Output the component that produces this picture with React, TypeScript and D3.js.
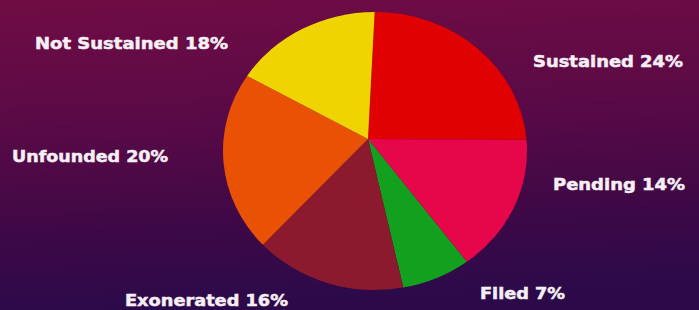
import React, { useRef, useEffect } from "react";
import * as d3 from "d3";

const W = 699;
const H = 310;

// slice data, clockwise from the top
const categories = ["Sustained", "Pending", "Filed", "Exonerated", "Unfounded", "Not Sustained"];
const percents = [24, 14, 7, 16, 20, 18];
const colors = ["#e00202", "#e6064a", "#12a01e", "#8c1a2e", "#e95204", "#efd402"];

// where each label sits: left x, baseline y, width of the text
const labelX = [533, 553, 480, 125, 12, 35];
const labelY = [67, 190, 299, 306, 162, 49];
const labelW = [150, 132, 85, 163, 156, 193];

// the pie is a bit of an ellipse in the picture, with the tip off centre
const APEX = { x: 368, y: 139 };
const ELL = { cx: 375, cy: 151, rx: 152, ry: 139 };

const rim = (a: number) => {
  const dx = Math.sin(a), dy = -Math.cos(a);
  const ox = APEX.x - ELL.cx, oy = APEX.y - ELL.cy;
  const A = (dx * dx) / (ELL.rx * ELL.rx) + (dy * dy) / (ELL.ry * ELL.ry);
  const B = 2 * ((ox * dx) / (ELL.rx * ELL.rx) + (oy * dy) / (ELL.ry * ELL.ry));
  const C = (ox * ox) / (ELL.rx * ELL.rx) + (oy * oy) / (ELL.ry * ELL.ry) - 1;
  const t = (-B + Math.sqrt(B * B - 4 * A * C)) / (2 * A);
  return [APEX.x + t * dx, APEX.y + t * dy];
};

const slicePath = (d: d3.PieArcDatum<number>) => {
  const [x0, y0] = rim(d.startAngle);
  const [x1, y1] = rim(d.endAngle);
  const p = d3.path();
  p.moveTo(APEX.x, APEX.y);
  p.lineTo(x0, y0);
  const large = d.endAngle - d.startAngle > Math.PI ? 1 : 0;
  return p.toString() + `A${ELL.rx},${ELL.ry},0,${large},1,${x1},${y1}Z`;
};

const App = () => {
  const ref = useRef<SVGSVGElement>(null);

  useEffect(() => {
    const svg = d3.select(ref.current);
    svg.selectAll("*").remove();

    const defs = svg.append("defs");
    const grad = defs.append("linearGradient")
      .attr("id", "bg").attr("x1", 0).attr("y1", 0).attr("x2", 0.1).attr("y2", 1);
    grad.append("stop").attr("offset", 0).attr("stop-color", "#700c44");
    grad.append("stop").attr("offset", 0.4).attr("stop-color", "#5a0a46");
    grad.append("stop").attr("offset", 0.75).attr("stop-color", "#3e0846");
    grad.append("stop").attr("offset", 1).attr("stop-color", "#2c0a4a");

    svg.append("rect").attr("width", W).attr("height", H).attr("fill", "url(#bg)");

    const start = (3 * Math.PI) / 180;
    const pie = d3.pie<number>().sort(null).startAngle(start).endAngle(start + 2 * Math.PI);

    svg.append("g")
      .selectAll("path")
      .data(pie(percents))
      .enter()
      .append("path")
      .attr("d", slicePath)
      .attr("fill", (d, i) => colors[i]);

    svg.append("g")
      .selectAll("text")
      .data(categories)
      .enter()
      .append("text")
      .attr("x", (d, i) => labelX[i])
      .attr("y", (d, i) => labelY[i])
      .attr("textLength", (d, i) => labelW[i])
      .attr("lengthAdjust", "spacingAndGlyphs")
      .attr("font-family", "DejaVu Sans")
      .attr("font-weight", "bold")
      .attr("font-size", 16)
      .attr("fill", "#f7eff5")
      .attr("stroke", "#f7eff5")
      .attr("stroke-width", 0.5)
      .text((d, i) => `${d} ${percents[i]}%`);
  }, []);

  return (
    <svg
      ref={ref}
      width={W}
      height={H}
      style={{ position: "absolute", left: 0, top: 0, display: "block" }}
    />
  );
};

export default App;
